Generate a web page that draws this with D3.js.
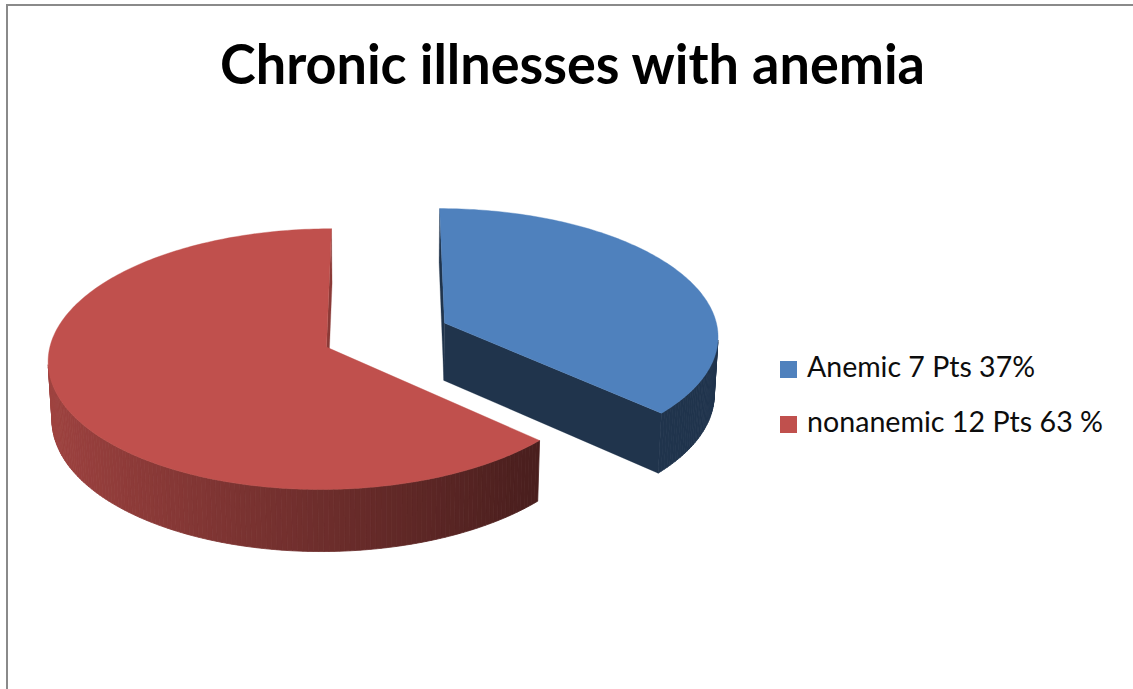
<!DOCTYPE html>
<html>
<head>
<meta charset="utf-8">
<script src="https://cdn.jsdelivr.net/npm/d3@7"></script>
<style>
  html, body { margin: 0; padding: 0; background: #fff; }
  svg { display: block; }
</style>
</head>
<body>
<script>
// Chart content
const title = "Chronic illnesses with anemia";
const categories = ["Anemic 7 Pts 37%", "nonanemic 12 Pts 63 %"];
const patients = [7, 12];
const topColors = ["#4F81BD", "#C0504D"];

const W = 1133, H = 689;

const svg = d3.select("body").append("svg")
  .attr("width", W).attr("height", H);

svg.append("rect").attr("width", W).attr("height", H).attr("fill", "#fff");

// chart area frame (only left and top edges fall inside the view)
svg.append("rect")
  .attr("x", 7).attr("y", 5)
  .attr("width", 1400).attr("height", 900)
  .attr("fill", "none")
  .attr("stroke", "#8A8A8A")
  .attr("stroke-width", 2);

// Title
svg.append("text")
  .attr("x", 220).attr("y", 84)
  .attr("textLength", 705)
  .attr("lengthAdjust", "spacingAndGlyphs")
  .style("font-family", "Lato, 'Open Sans', sans-serif")
  .style("font-weight", 700)
  .style("font-size", "56px")
  .attr("fill", "#000")
  .text(title);

// ---- 3D pie ----
// perspective camera: disc radius = 1 in world units
const cam = { ox: 386, oy: 335, F: 2660, D: 9.7, phi: 27.6 * Math.PI / 180 };
const cosP = Math.cos(cam.phi), sinP = Math.sin(cam.phi);
const camPos = [0, cam.D * sinP, cam.D * cosP];
const thickness = 0.24;
const explode = 0.235;

function project(p) {
  const [X, Y, Z] = p;
  const depth = cam.D - Z * cosP - Y * sinP;
  return [cam.ox + cam.F * X / depth, cam.oy + cam.F * (Z * sinP - Y * cosP) / depth, depth];
}
function depthOf(p) { return cam.D - p[2] * cosP - p[1] * sinP; }

const line = d3.line();

const arcs = d3.pie().sort(null).value(d => d)(patients);

function shadeColor(base, f) {
  const c = d3.rgb(base);
  return d3.rgb(c.r * f, c.g * f, c.b * f).formatHex();
}
// side lighting: light comes from the left
function wallShade(i, nx, isCut) {
  if (i === 0) return shadeColor(topColors[i], 0.40);
  if (isCut) return shadeColor(topColors[i], 0.72);
  return shadeColor(topColors[i], Math.max(0.36, 0.57 - 0.26 * nx));
}

const slices = arcs.map((a, i) => {
  const a0 = a.startAngle, a1 = a.endAngle, mid = (a0 + a1) / 2;
  const cx = explode * Math.sin(mid), cz = -explode * Math.cos(mid);
  const pt = (t, r, y) => [cx + r * Math.sin(t), y, cz - r * Math.cos(t)];
  const steps = Math.ceil((a1 - a0) / (Math.PI / 180));
  const angles = d3.range(steps + 1).map(k => a0 + (a1 - a0) * k / steps);

  const faces = [];
  // outer wall, in 1-degree strips
  for (let k = 0; k < steps; k++) {
    const t0 = angles[k], t1 = angles[k + 1], tm = (t0 + t1) / 2;
    const quad = [pt(t0, 1, 0), pt(t1, 1, 0), pt(t1, 1, -thickness), pt(t0, 1, -thickness)];
    const n = [Math.sin(tm), 0, -Math.cos(tm)];
    faces.push({ quad, n, fill: wallShade(i, Math.sin(tm), false), strip: true });
  }
  // the two radial cut faces
  const c0 = [cx, 0, cz], c1 = [cx, -thickness, cz];
  faces.push({ quad: [c0, pt(a0, 1, 0), pt(a0, 1, -thickness), c1],
               n: [-Math.cos(a0), 0, -Math.sin(a0)], fill: wallShade(i, 1, true) });
  faces.push({ quad: [c0, pt(a1, 1, 0), pt(a1, 1, -thickness), c1],
               n: [Math.cos(a1), 0, Math.sin(a1)], fill: wallShade(i, 1, true) });

  const visible = faces.filter(f => {
    const m = [0, 1, 2].map(j => d3.mean(f.quad, q => q[j]));
    f.depth = depthOf(m);
    const v = [camPos[0] - m[0], camPos[1] - m[1], camPos[2] - m[2]];
    return f.n[0] * v[0] + f.n[1] * v[1] + f.n[2] * v[2] > 0;
  }).sort((a, b) => b.depth - a.depth);

  const top = [c0].concat(angles.map(t => pt(t, 1, 0)));
  return { i, visible, top, depth: depthOf([cx, 0, cz]) };
}).sort((a, b) => b.depth - a.depth);

const pieG = svg.append("g");
slices.forEach(s => {
  const g = pieG.append("g");
  g.selectAll("path.side").data(s.visible).join("path")
    .attr("class", "side")
    .attr("d", f => line(f.quad.map(p => project(p).slice(0, 2))) + "Z")
    .attr("fill", f => f.fill)
    .attr("stroke", f => f.fill)
    .attr("stroke-width", f => f.strip ? 0.8 : 0.3)
    .attr("stroke-linejoin", "round");
  g.append("path")
    .attr("d", line(s.top.map(p => project(p).slice(0, 2))) + "Z")
    .attr("fill", topColors[s.i])
    .attr("stroke", topColors[s.i])
    .attr("stroke-width", 0.4);
});

// Legend
const legend = svg.append("g").attr("transform", "translate(780,361)");
const legendWidths = [228, 296];
const item = legend.selectAll("g").data(categories).join("g")
  .attr("transform", (d, i) => `translate(0,${i * 55})`);
item.append("rect")
  .attr("width", 17).attr("height", 17)
  .attr("fill", (d, i) => topColors[i]);
item.append("text")
  .attr("x", 27).attr("y", 16)
  .attr("textLength", (d, i) => legendWidths[i])
  .attr("lengthAdjust", "spacingAndGlyphs")
  .style("font-family", "Lato, 'Open Sans', sans-serif")
  .style("font-size", "29px")
  .attr("fill", "#0D0D0D")
  .text(d => d);
</script>
</body>
</html>
